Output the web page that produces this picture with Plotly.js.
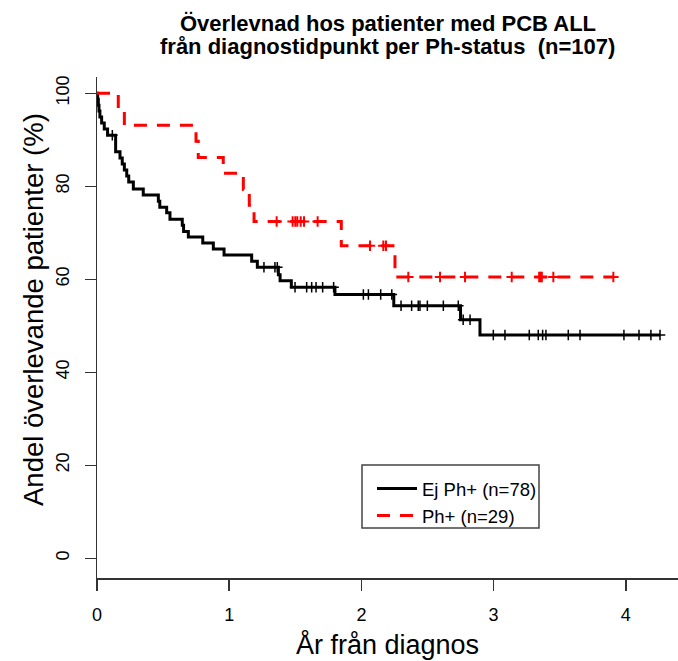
<!DOCTYPE html>
<html>
<head>
<meta charset="utf-8">
<script src="https://cdn.plot.ly/plotly-3.0.1.min.js"></script>
<style>
  html, body { margin: 0; padding: 0; background: #fff; }
  #chart { width: 678px; height: 661px; }
</style>
</head>
<body>
<div id="chart"></div>
<script>
// Kaplan-Meier survival (%) by Ph status, years from diagnosis
const groupNames = ['Ej Ph+ (n=78)', 'Ph+ (n=29)'];
const titleLines = ['Överlevnad hos patienter med PCB ALL',
                    'från diagnostidpunkt per Ph-status\u00a0\u00a0(n=107)'];
const yTitle = 'Andel överlevande patienter (%)';
const xTitle = 'År från diagnos';

// Ej Ph+ : step times (years) and survival (%) after each step
const ejTimes = [0.005, 0.010, 0.015, 0.022, 0.035, 0.055, 0.080,
                 0.141, 0.174, 0.191, 0.207, 0.225, 0.240,
                 0.275, 0.350, 0.464, 0.475, 0.527, 0.552,
                 0.645, 0.655, 0.691, 0.800, 0.880, 0.961,
                 1.170, 1.213, 1.372, 1.385, 1.470, 1.800,
                 2.245, 2.750, 2.897];
const ejSurv  = [98.7, 97.4, 96.2, 94.9, 93.6, 92.3, 91.0,
                 87.4, 86.1, 84.8, 83.5, 82.2, 80.9,
                 79.4, 78.1, 76.8, 75.5, 74.3, 72.9,
                 71.6, 70.3, 69.1, 67.8, 66.5, 65.2,
                 63.9, 62.6, 61.0, 59.7, 58.3, 56.7,
                 54.3, 51.3, 48.0];
// Ej Ph+ : censoring times (years)
const ejCensor = [0.116, 1.263, 1.346, 1.364, 1.498, 1.586, 1.624, 1.657, 1.707, 1.790,
                  2.015, 2.053, 2.146, 2.230, 2.300, 2.380, 2.430, 2.443, 2.499, 2.620,
                  2.733, 2.770, 2.822, 2.998, 3.086, 3.270, 3.338, 3.371, 3.396, 3.565,
                  3.654, 3.986, 4.100, 4.190, 4.259];

// Ph+ : step times (years) and survival (%)
const phTimes = [0.161, 0.207, 0.749, 0.766, 0.955, 1.107, 1.152, 1.188, 1.848, 2.254];
const phSurv  = [96.6, 93.1, 89.7, 86.2, 82.8, 79.3, 75.9, 72.4, 67.2, 60.5];
// Ph+ : censoring times (years)
const phCensor = [1.359, 1.480, 1.500, 1.515, 1.541, 1.566, 1.669, 2.065, 2.166, 2.186,
                  2.355, 2.595, 2.784, 3.137, 3.345, 3.355, 3.365, 3.452, 3.906];

const xTicks = [0, 1, 2, 3, 4];
const yTicks = [0, 20, 40, 60, 80, 100];

// survival level of a step curve at time t
function levelAt(times, surv, t) {
  let v = 100;
  for (let i = 0; i < times.length; i++) if (times[i] <= t) v = surv[i];
  return v;
}

// step path from 0 to the last follow-up time
function stepPath(times, surv, censor) {
  const end = Math.max(censor[censor.length - 1], times[times.length - 1]);
  return { x: [0].concat(times, [end]), y: [100].concat(surv, [surv[surv.length - 1]]) };
}

const ejPath = stepPath(ejTimes, ejSurv, ejCensor);
const phPath = stepPath(phTimes, phSurv, phCensor);

const FONT = 'Liberation Sans, Arial, Helvetica, sans-serif';

const traces = [
  {
    x: ejPath.x, y: ejPath.y, name: groupNames[0], type: 'scatter', mode: 'lines',
    line: { color: '#000000', width: 3, shape: 'hv' }, hoverinfo: 'skip'
  },
  {
    x: phPath.x, y: phPath.y, name: groupNames[1], type: 'scatter', mode: 'lines',
    line: { color: '#ff0000', width: 3, shape: 'hv', dash: '13px,10px' }, hoverinfo: 'skip'
  },
  {
    x: ejCensor, y: ejCensor.map(t => levelAt(ejTimes, ejSurv, t)),
    type: 'scatter', mode: 'markers', showlegend: false, hoverinfo: 'skip',
    marker: { symbol: 'cross-thin', size: 7.5, color: '#000000', line: { color: '#000000', width: 1.5 } }
  },
  {
    x: phCensor, y: phCensor.map(t => levelAt(phTimes, phSurv, t)),
    type: 'scatter', mode: 'markers', showlegend: false, hoverinfo: 'skip',
    marker: { symbol: 'cross-thin', size: 7.5, color: '#ff0000', line: { color: '#ff0000', width: 2 } }
  }
];

const axisCommon = {
  showgrid: false, zeroline: false, showline: true,
  linecolor: '#333333', linewidth: 1.5,
  ticks: 'outside', ticklen: 11, tickwidth: 1.5, tickcolor: '#333333',
  tickfont: { family: FONT, size: 18, color: '#000000' },
  fixedrange: true
};

// plot area spans 97..678 px across and 77..578 px down
const plotLeft = 97, plotRight = 678, plotTop = 77, plotBottom = 578;
const paperX = px => (px - plotLeft) / (plotRight - plotLeft);
const paperY = px => (plotBottom - px) / (plotBottom - plotTop);

const layout = {
  width: 678, height: 661,
  margin: { l: plotLeft, r: 678 - plotRight, t: plotTop, b: 661 - plotBottom, pad: 0 },
  paper_bgcolor: '#ffffff', plot_bgcolor: '#ffffff',
  font: { family: FONT, color: '#000000' },
  xaxis: Object.assign({}, axisCommon, {
    range: [0, 4.395], tickvals: xTicks, ticktext: xTicks.map(String),
    ticklabelstandoff: 9,
    title: { text: xTitle, font: { family: FONT, size: 27 }, standoff: 11 }
  }),
  yaxis: Object.assign({}, axisCommon, {
    range: [-4.24, 103.5], tickvals: yTicks, ticktext: yTicks.map(String),
    tickangle: -90, ticklabelstandoff: 8
  }),
  annotations: titleLines.map((t, i) => ({
    text: t, xref: 'paper', yref: 'paper', x: 0.5, y: paperY(i === 0 ? 23 : 47),
    xanchor: 'center', yanchor: 'middle', showarrow: false,
    font: { family: FONT, size: 22, weight: 'bold', color: '#000000' }
  })).concat([{
    text: yTitle, xref: 'paper', yref: 'paper', x: paperX(33), y: paperY(310),
    xanchor: 'center', yanchor: 'middle', textangle: -90, showarrow: false,
    font: { family: FONT, size: 27.5, color: '#000000' }
  }]),
  showlegend: true,
  legend: {
    x: 0.4733, y: 0.2156, xanchor: 'left', yanchor: 'top',
    bgcolor: 'rgba(0,0,0,0)', borderwidth: 0,
    font: { family: FONT, size: 18.5, color: '#000000' },
    itemwidth: 40, tracegroupgap: 0
  },
  shapes: [{
    type: 'rect', xref: 'paper', yref: 'paper',
    x0: paperX(362), x1: paperX(539), y0: paperY(528), y1: paperY(465),
    line: { color: '#444444', width: 1.5 }, fillcolor: 'rgba(0,0,0,0)', layer: 'below'
  }]
};

Plotly.newPlot('chart', traces, layout, { displayModeBar: false, staticPlot: true });
</script>
</body>
</html>
